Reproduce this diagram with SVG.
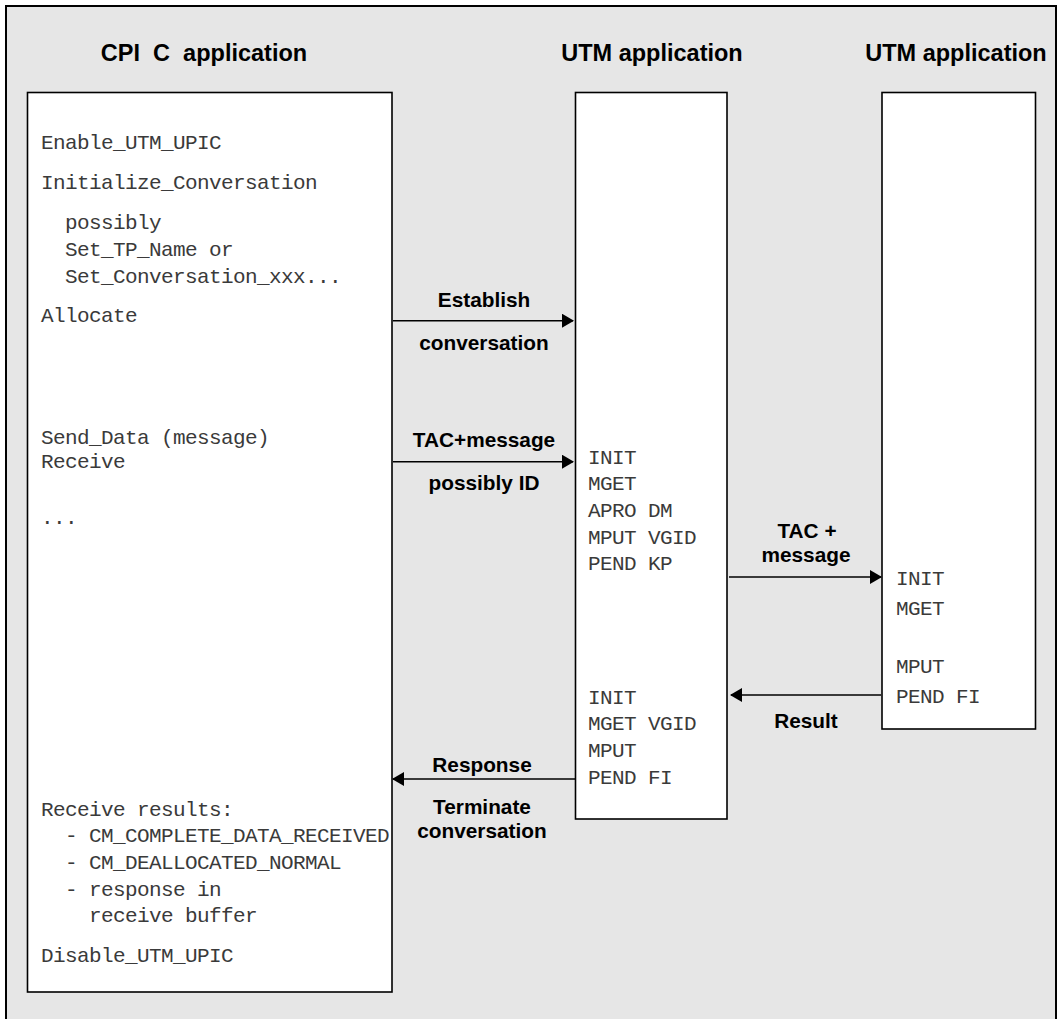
<svg xmlns="http://www.w3.org/2000/svg" width="1058" height="1019" viewBox="0 0 1058 1019">
<defs>
<style>
.frame{fill:#e6e6e6;stroke:#000;stroke-width:2}
.box{fill:#fff;stroke:#000;stroke-width:1.6}
.title{font-family:"Liberation Sans",Arial,sans-serif;font-weight:bold;font-size:23.5px;fill:#000;text-anchor:middle}
.lbl{font-family:"Liberation Sans",Arial,sans-serif;font-weight:bold;font-size:20.8px;fill:#000;text-anchor:middle}
.code{font-family:"Liberation Mono","DejaVu Sans Mono",monospace;font-size:21px;letter-spacing:-0.6px;fill:#3a3a3a}
.conn{stroke:#000;stroke-width:1.6;fill:none}
</style>
<marker id="ah" markerWidth="12" markerHeight="14" refX="11" refY="7" orient="auto" markerUnits="userSpaceOnUse">
<path d="M0,0 L12,7 L0,14 Z" fill="#000"/>
</marker>
</defs>
<rect class="frame" x="6" y="6" width="1050" height="1040"/>
<text class="title" x="204" y="61" xml:space="preserve">CPI  C  application</text>
<text class="title" x="652" y="61">UTM application</text>
<text class="title" x="956" y="61">UTM application</text>

<g id="cpic">
<rect class="box" x="27.5" y="92.5" width="364.5" height="899.5"/>
<text class="code" x="41" y="149">Enable_UTM_UPIC</text>
<text class="code" x="41" y="189">Initialize_Conversation</text>
<text class="code" x="65" y="229">possibly</text>
<text class="code" x="65" y="256">Set_TP_Name or</text>
<text class="code" x="65" y="283">Set_Conversation_xxx...</text>
<text class="code" x="41" y="322">Allocate</text>
<text class="code" x="41" y="444" xml:space="preserve">Send_Data (message)</text>
<text class="code" x="41" y="468">Receive</text>
<text class="code" x="41" y="524">...</text>
<text class="code" x="41" y="816">Receive results:</text>
<text class="code" x="65" y="842">- CM_COMPLETE_DATA_RECEIVED</text>
<text class="code" x="65" y="869">- CM_DEALLOCATED_NORMAL</text>
<text class="code" x="65" y="896">- response in</text>
<text class="code" x="89" y="922">receive buffer</text>
<text class="code" x="41" y="962">Disable_UTM_UPIC</text>
</g>

<g id="utm1">
<rect class="box" x="575.5" y="92.5" width="151.5" height="726.5"/>
<text class="code" x="588" y="464">INIT</text>
<text class="code" x="588" y="490">MGET</text>
<text class="code" x="588" y="517" xml:space="preserve">APRO DM</text>
<text class="code" x="588" y="544" xml:space="preserve">MPUT VGID</text>
<text class="code" x="588" y="570" xml:space="preserve">PEND KP</text>
<text class="code" x="588" y="704">INIT</text>
<text class="code" x="588" y="730" xml:space="preserve">MGET VGID</text>
<text class="code" x="588" y="757">MPUT</text>
<text class="code" x="588" y="784" xml:space="preserve">PEND FI</text>
</g>

<g id="utm2">
<rect class="box" x="882" y="92.5" width="153.5" height="636.5"/>
<text class="code" x="896" y="585">INIT</text>
<text class="code" x="896" y="615">MGET</text>
<text class="code" x="896" y="673">MPUT</text>
<text class="code" x="896" y="703" xml:space="preserve">PEND FI</text>
</g>

<g id="connectors">
<line class="conn" x1="393" y1="320.7" x2="573" y2="320.7" marker-end="url(#ah)"/>
<line class="conn" x1="393" y1="461.7" x2="573" y2="461.7" marker-end="url(#ah)"/>
<line class="conn" x1="729" y1="577" x2="881" y2="577" marker-end="url(#ah)"/>
<line class="conn" x1="881" y1="695" x2="731" y2="695" marker-end="url(#ah)"/>
<line class="conn" x1="575" y1="779" x2="393" y2="779" marker-end="url(#ah)"/>
<text class="lbl" x="484" y="307">Establish</text>
<text class="lbl" x="484" y="350">conversation</text>
<text class="lbl" x="484" y="447">TAC+message</text>
<text class="lbl" x="484" y="490">possibly ID</text>
<text class="lbl" x="807" y="538">TAC +</text>
<text class="lbl" x="806" y="562">message</text>
<text class="lbl" x="806" y="728">Result</text>
<text class="lbl" x="482" y="772">Response</text>
<text class="lbl" x="482" y="814">Terminate</text>
<text class="lbl" x="482" y="838">conversation</text>
</g>
</svg>
